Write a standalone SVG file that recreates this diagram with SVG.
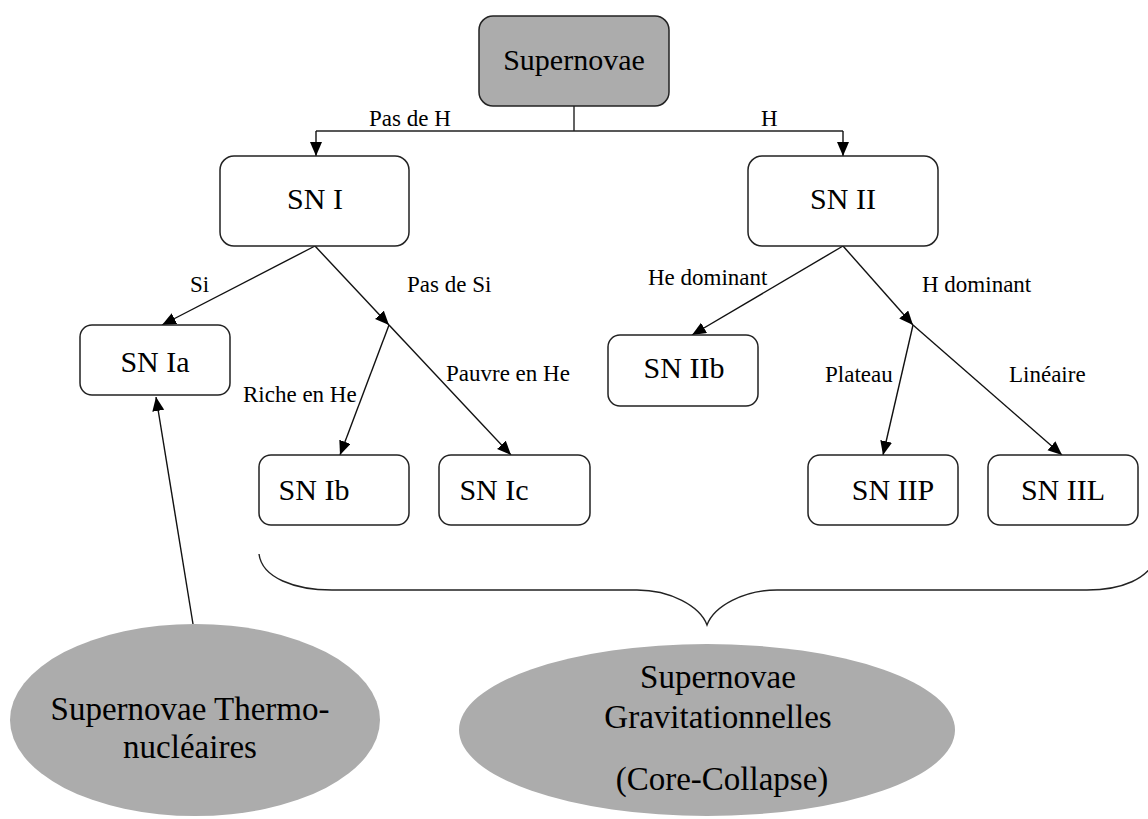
<svg xmlns="http://www.w3.org/2000/svg" width="1148" height="819" viewBox="0 0 1148 819">
  <style>
    .box { fill: #ffffff; stroke: #222222; stroke-width: 1.5; }
    .box.dark { fill: #acacac; }
    .oval { fill: #acacac; stroke: none; }
    .node-text { font-family: "Liberation Serif", "Times New Roman", serif; font-size: 30px; fill: #000; text-anchor: middle; }
    .oval-text { font-family: "Liberation Serif", "Times New Roman", serif; font-size: 33px; fill: #000; text-anchor: middle; }
    .label { font-family: "Liberation Serif", "Times New Roman", serif; font-size: 23px; fill: #000; }
    .edge { fill: none; stroke: #222222; stroke-width: 1.4; }
    .arrow { fill: none; stroke: #111111; stroke-width: 1.4; marker-end: url(#head); }
  </style>
  <defs>
    <marker id="head" markerUnits="userSpaceOnUse" markerWidth="15" markerHeight="13" refX="14" refY="6" orient="auto">
      <path d="M0,0 L14,6 L0,12 z" fill="#000"/>
    </marker>
  </defs>

  <rect width="1148" height="819" fill="#ffffff"/>

  <!-- connectors -->
  <g id="connectors">
    <path class="edge" d="M574,106 V131 M316,131 H843"/>
    <path class="arrow" d="M316,131 V156"/>
    <path class="arrow" d="M843,131 V156"/>
    <!-- SN I branches -->
    <path class="arrow" d="M315,246 L162,325"/>
    <path class="arrow" d="M315,246 L389,325"/>
    <path class="arrow" d="M389,325 L340,455"/>
    <path class="arrow" d="M389,325 L511,455"/>
    <!-- SN II branches -->
    <path class="arrow" d="M843,246 L692,335"/>
    <path class="arrow" d="M843,246 L913,325"/>
    <path class="arrow" d="M913,325 L883,455"/>
    <path class="arrow" d="M913,325 L1062,455"/>
    <!-- thermonuclear family -->
    <path class="arrow" d="M193,624 L156,397"/>
    <!-- brace grouping the core-collapse types -->
    <path class="edge" d="M259,554 C262,578 295,590 332,590 H637 C670,590 700,606 707,625 C714,606 744,590 777,590 H1087 C1120,590 1150,580 1158,554"/>
  </g>

  <!-- edge labels -->
  <g id="labels">
    <text class="label" x="369" y="126">Pas de H</text>
    <text class="label" x="761" y="126">H</text>
    <text class="label" x="190" y="292">Si</text>
    <text class="label" x="407" y="292">Pas de Si</text>
    <text class="label" x="243" y="402">Riche en He</text>
    <text class="label" x="446" y="381">Pauvre en He</text>
    <text class="label" x="648" y="285">He dominant</text>
    <text class="label" x="922" y="292">H dominant</text>
    <text class="label" x="825" y="382">Plateau</text>
    <text class="label" x="1009" y="382">Linéaire</text>
  </g>

  <g id="supernovae">
    <rect class="box dark" x="479" y="16" width="190" height="90" rx="14"/>
    <text class="node-text" x="574" y="70">Supernovae</text>
  </g>
  <g id="sn-i">
    <rect class="box" x="220" y="156" width="189" height="90" rx="14"/>
    <text class="node-text" x="315" y="209">SN I</text>
  </g>
  <g id="sn-ii">
    <rect class="box" x="748" y="156" width="190" height="90" rx="14"/>
    <text class="node-text" x="843" y="209">SN II</text>
  </g>
  <g id="sn-ia">
    <rect class="box" x="80" y="325" width="150" height="70" rx="12"/>
    <text class="node-text" x="155" y="372">SN Ia</text>
  </g>
  <g id="sn-ib">
    <rect class="box" x="259" y="455" width="150" height="70" rx="12"/>
    <text class="node-text" x="314" y="500">SN Ib</text>
  </g>
  <g id="sn-ic">
    <rect class="box" x="439" y="455" width="151" height="70" rx="12"/>
    <text class="node-text" x="494" y="500">SN Ic</text>
  </g>
  <g id="sn-iib">
    <rect class="box" x="608" y="335" width="150" height="71" rx="12"/>
    <text class="node-text" x="684" y="378">SN IIb</text>
  </g>
  <g id="sn-iip">
    <rect class="box" x="808" y="455" width="150" height="70" rx="12"/>
    <text class="node-text" x="893" y="500">SN IIP</text>
  </g>
  <g id="sn-iil">
    <rect class="box" x="988" y="455" width="150" height="70" rx="12"/>
    <text class="node-text" x="1063" y="500">SN IIL</text>
  </g>

  <g id="thermonucleaires">
    <ellipse class="oval" cx="195" cy="720" rx="185" ry="96"/>
    <text class="oval-text" x="190" y="720">Supernovae Thermo-</text>
    <text class="oval-text" x="190" y="758">nucléaires</text>
  </g>
  <g id="gravitationnelles">
    <ellipse class="oval" cx="707" cy="730" rx="248" ry="86"/>
    <text class="oval-text" x="718" y="688">Supernovae</text>
    <text class="oval-text" x="718" y="728">Gravitationnelles</text>
    <text class="oval-text" x="722" y="790">(Core-Collapse)</text>
  </g>
</svg>
